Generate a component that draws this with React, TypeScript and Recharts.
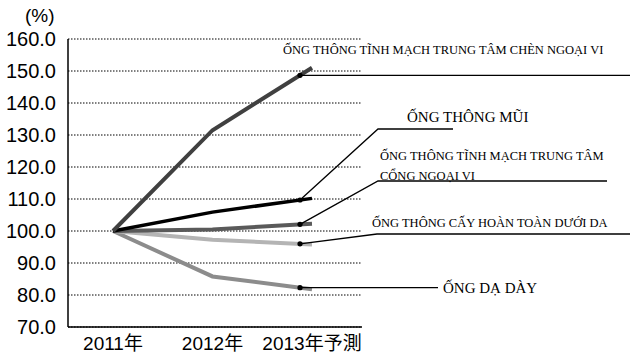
import React from 'react';
import { LineChart, Line, XAxis, YAxis, CartesianGrid } from 'recharts';

const years = ['2011年', '2012年', '2013年予測'];

const chenNgoaiVi = [100, 131.5, 151];
const mui = [100, 105.9, 110.2];
const congNgoaiVi = [100, 100.5, 102.3];
const cayDuoiDa = [100, 97.3, 95.8];
const daDay = [100, 85.8, 81.8];

const yTicks = [70, 80, 90, 100, 110, 120, 130, 140, 150, 160];

const W = 640;
const H = 355;
const TOP = 39;
const XAXIS_H = 28;
// pixels per 1% on the y axis (plot height / domain span)
const PX_PER_UNIT = (H - TOP - XAXIS_H) / (160 - 70);
const STEP_FRAC = 12 / 99.5; // leader dot sits a little before the last point

const data = years.map((year, i) => ({
  year,
  chen: chenNgoaiVi[i],
  mui: mui[i],
  cong: congNgoaiVi[i],
  cay: cayDuoiDa[i],
  daday: daDay[i],
}));

type Note = {
  lines: string[];
  textX: number;
  textY: number;
  size: number;
  knee?: [number, number];
  endX: number;
};

const makeLabel = (values: number[], note: Note) => (props: any) => {
  const { x, y, index } = props;
  if (index !== values.length - 1) return null;
  const n = values.length;
  const dx = 12;
  const dotX = x - dx;
  const dotY = y + (values[n - 1] - values[n - 2]) * STEP_FRAC * PX_PER_UNIT;
  const pts = note.knee
    ? `${dotX},${dotY} ${note.knee[0]},${note.knee[1]} ${note.endX},${note.knee[1]}`
    : `${dotX},${dotY} ${note.endX},${dotY}`;
  return (
    <g>
      <polyline points={pts} fill="none" stroke="#000" strokeWidth={1.3} />
      <circle cx={dotX} cy={dotY} r={2.6} fill="#000" />
      {note.lines.map((t, i) => (
        <text
          key={i}
          x={note.textX}
          y={note.textY + i * 20}
          dy="0.35em"
          fontSize={note.size}
          fontFamily="'Liberation Serif', 'Times New Roman', serif"
          fill="#000"
        >
          {t}
        </text>
      ))}
    </g>
  );
};

const series = [
  {
    key: 'daday', values: daDay, color: '#8c8c8c', width: 4,
    note: { lines: ['ỐNG DẠ DÀY'], textX: 443, textY: 288, size: 15, endX: 438 },
  },
  {
    key: 'cay', values: cayDuoiDa, color: '#b4b4b4', width: 4,
    note: { lines: ['ỐNG THÔNG CẤY HOÀN TOÀN DƯỚI DA'], textX: 372, textY: 223, size: 12.5, knee: [377, 234] as [number, number], endX: 630 },
  },
  {
    key: 'cong', values: congNgoaiVi, color: '#5a5a5a', width: 4,
    note: { lines: ['ỐNG THÔNG TĨNH MẠCH TRUNG TÂM', 'CỔNG NGOẠI VI'], textX: 380, textY: 156, size: 12.5, knee: [378, 181] as [number, number], endX: 607 },
  },
  {
    key: 'mui', values: mui, color: '#000000', width: 3.5,
    note: { lines: ['ỐNG THÔNG MŨI'], textX: 407, textY: 117, size: 15, knee: [378, 129] as [number, number], endX: 453 },
  },
  {
    key: 'chen', values: chenNgoaiVi, color: '#404040', width: 4,
    note: { lines: ['ỐNG THÔNG TĨNH MẠCH TRUNG TÂM CHÈN NGOẠI VI'], textX: 283, textY: 50, size: 12.5, endX: 630 },
  },
];

const tickFont = "'Liberation Sans', Arial, 'Noto Sans CJK JP', sans-serif";

export default function App() {
  return (
    <div style={{ position: 'absolute', left: 0, top: 0, width: W, height: H, background: '#fff' }}>
      <span
        style={{
          position: 'absolute', left: 25, top: 5, fontSize: 19,
          fontFamily: tickFont, color: '#000', lineHeight: '22px',
        }}
      >
        (%)
      </span>
      <LineChart width={W} height={H} data={data} margin={{ top: TOP, right: 278, bottom: 0, left: 0 }}>
        <CartesianGrid vertical={false} stroke="#000" strokeDasharray="1.5 1.5" />
        <XAxis
          dataKey="year"
          height={XAXIS_H}
          padding={{ left: 45, right: 50 }}
          tickLine={false}
          tickMargin={4}
          axisLine={{ stroke: '#000', strokeWidth: 1.5 }}
          tick={{ fill: '#000', fontSize: 19, fontFamily: tickFont }}
          interval={0}
        />
        <YAxis
          width={68}
          domain={[70, 160]}
          ticks={yTicks}
          tickFormatter={(v: number) => v.toFixed(1)}
          tickLine={false}
          tickMargin={6}
          axisLine={{ stroke: '#000', strokeWidth: 1.5 }}
          tick={{ fill: '#000', fontSize: 20, fontFamily: tickFont }}
          interval={0}
        />
        {series.map((s) => (
          <Line
            key={s.key}
            dataKey={s.key}
            type="linear"
            stroke={s.color}
            strokeWidth={s.width}
            dot={false}
            activeDot={false}
            isAnimationActive={false}
            label={makeLabel(s.values, s.note)}
          />
        ))}
      </LineChart>
    </div>
  );
}
